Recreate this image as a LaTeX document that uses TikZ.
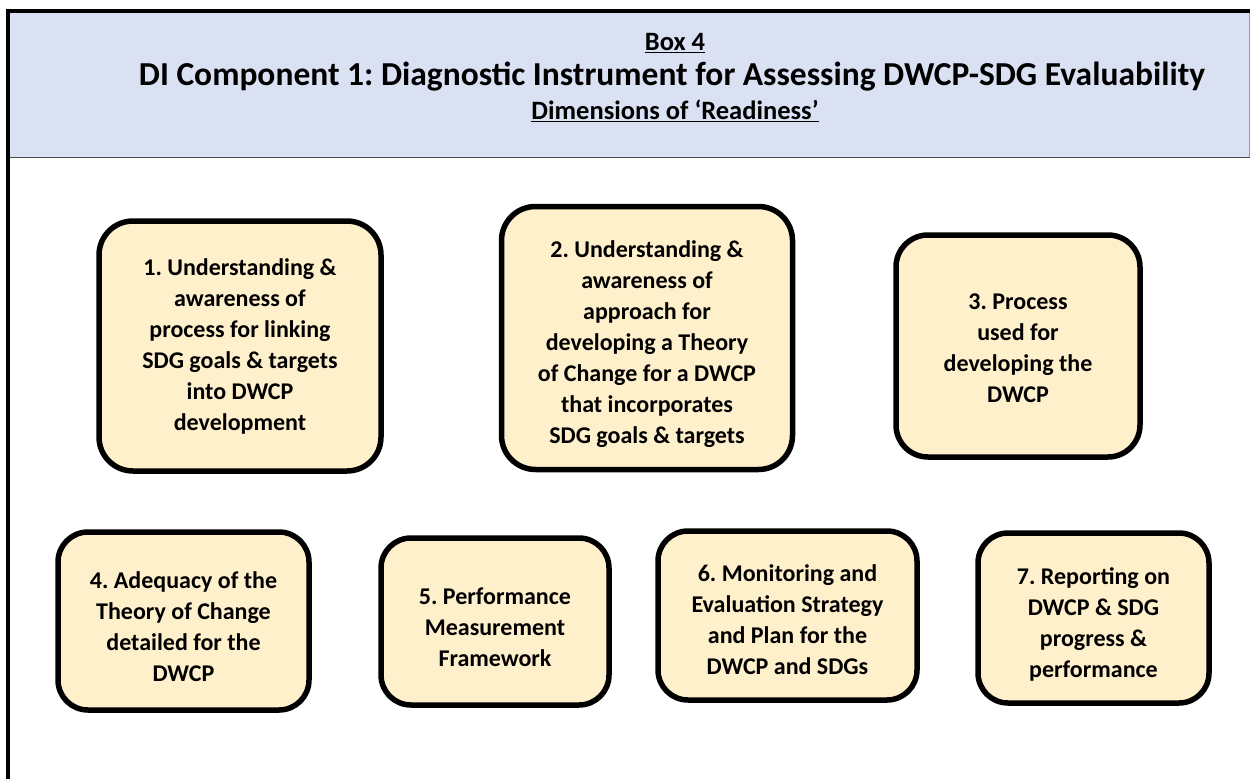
\documentclass[tikz,border=0pt]{standalone}
\usepackage{fontspec}
\setmainfont{Carlito}
\frenchspacing
\definecolor{hdrblue}{HTML}{DAE1F3}
\definecolor{boxyellow}{HTML}{FFF0CC}
\begin{document}
\begin{tikzpicture}[x=1pt,y=-1pt,
  dimbox/.style={draw=black, line width=5.5pt, fill=boxyellow, rounded corners=34pt, inner sep=0pt},
  dimtext/.style={align=center, font=\fontsize{24}{31}\selectfont\bfseries, inner sep=0pt},
  hdr/.style={align=center, inner sep=0pt}]
\useasboundingbox (0,0) rectangle (1250,779);
% header band
\fill[hdrblue] (8,11) rectangle (1250,157);
\draw[line width=1pt, black!70] (8,157) -- (1250,157);
\draw[line width=0.8pt, black!40] (1249,11) -- (1249,157);
% frame
\draw[line width=4pt] (1250,11) -- (8,11) -- (8,779);
% header text
\node[hdr, font=\fontsize{26.5}{30}\selectfont\bfseries] (box) at (675,43) {\underline{Box 4}};
\node[hdr, font=\fontsize{33.5}{36}\selectfont\bfseries] (title) at (672,77) {DI Component 1: Diagnostic Instrument for Assessing DWCP-SDG Evaluability};
\node[hdr, font=\fontsize{26.5}{30}\selectfont\bfseries] (sub) at (675,111) {\underline{Dimensions of ‘Readiness’}};
% dimension boxes
\node[dimbox, minimum width=282pt, minimum height=250pt] (d1) at (240,346) {};
\node[dimtext] (t1) at (d1.center) {1. Understanding \&\\ awareness of\\ process for linking\\ SDG goals \& targets\\ into DWCP\\ development};
\node[dimbox, minimum width=291pt, minimum height=263pt] (d2) at (647,338) {};
\node[dimtext] (t2) at ([yshift=-6pt]d2.center) {2. Understanding \&\\ awareness of\\ approach for\\ developing a Theory\\ of Change for a DWCP\\ that incorporates\\ SDG goals \& targets};
\node[dimbox, minimum width=244pt, minimum height=222pt, rounded corners=32pt] (d3) at (1018,346) {};
\node[dimtext] (t3) at ([yshift=-2pt]d3.center) {3. Process\\ used for\\ developing the\\ DWCP};
\node[dimbox, minimum width=251pt, minimum height=178pt, rounded corners=30pt] (d4) at (183.5,621) {};
\node[dimtext] (t4) at ([yshift=-6pt]d4.center) {4. Adequacy of the\\ Theory of Change\\ detailed for the\\ DWCP};
\node[dimbox, minimum width=228pt, minimum height=167pt, rounded corners=30pt] (d5) at (495,621.5) {};
\node[dimtext] (t5) at ([yshift=-6pt]d5.center) {5. Performance\\ Measurement\\ Framework};
\node[dimbox, minimum width=259pt, minimum height=169pt, rounded corners=30pt] (d6) at (787.5,615.5) {};
\node[dimtext] (t6) at ([yshift=-4pt]d6.center) {6. Monitoring and\\ Evaluation Strategy\\ and Plan for the\\ DWCP and SDGs};
\node[dimbox, minimum width=231pt, minimum height=170pt, rounded corners=30pt] (d7) at (1093.5,618) {};
\node[dimtext] (t7) at ([yshift=-6pt]d7.center) {7. Reporting on\\ DWCP \& SDG\\ progress \&\\ performance};
\end{tikzpicture}
\end{document}
